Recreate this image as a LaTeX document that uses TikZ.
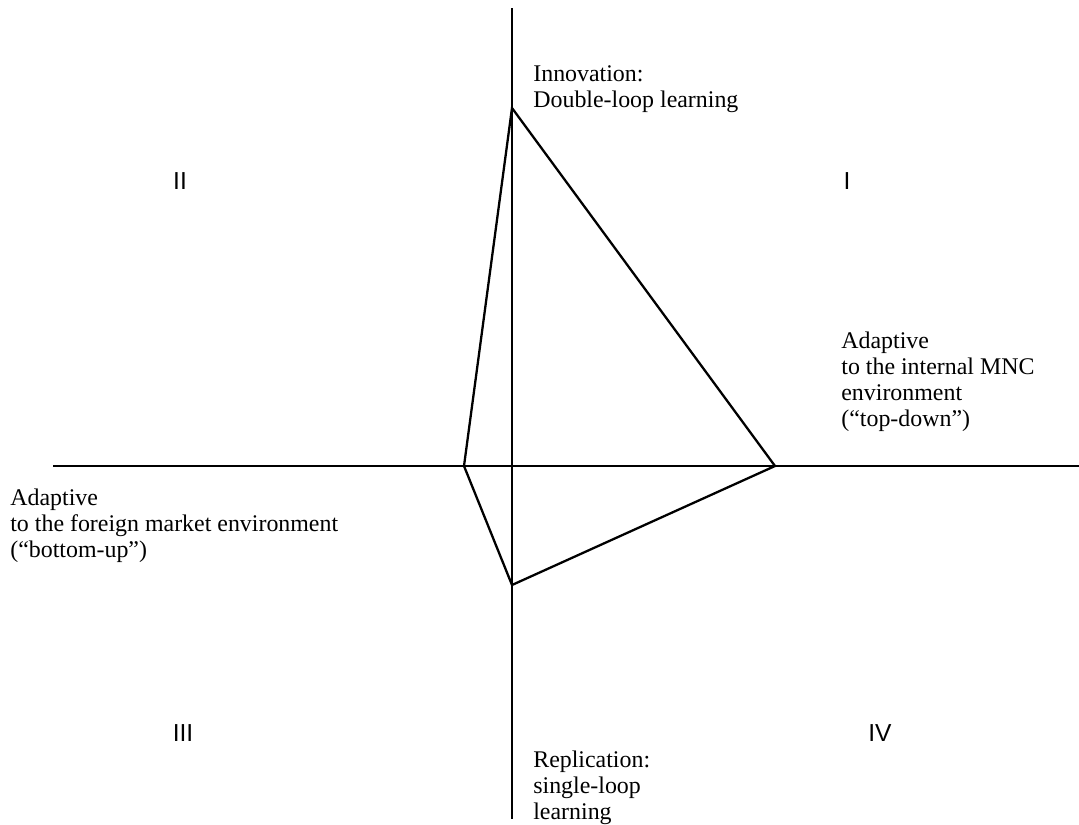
\documentclass[tikz,border=0pt]{standalone}
\usepackage{fontspec}
\setmainfont{Liberation Serif}
\newfontfamily\quadfont{Liberation Sans}
\usetikzlibrary{positioning}

\begin{document}
\begin{tikzpicture}[x=0.02cm,y=-0.02cm,
  axis/.style={line width=1.6pt},
  edge/.style={line width=1.3pt,line join=miter},
  label/.style={align=left,anchor=north west,inner sep=0pt,
    font=\fontsize{13.6}{14.8}\selectfont},
  quadrant/.style={inner sep=0pt,font=\quadfont\fontsize{14}{16}\selectfont}]
  \useasboundingbox (0,0) rectangle (1079,825);

  % axes
  \coordinate (west end) at (53,466);
  \coordinate (east end) at (1079,466);
  \coordinate (north end) at (512,8);
  \coordinate (south end) at (512,819);
  \draw[axis] (west end) -- (east end);
  \draw[axis] (north end) -- (south end);

  % learning polygon
  \coordinate (innovation) at (512,108);
  \coordinate (top down) at (775,466);
  \coordinate (replication) at (512,585);
  \coordinate (bottom up) at (464,466);
  \draw[edge] (innovation) -- (top down) -- (replication) -- (bottom up) -- cycle;

  % quadrants
  \node[quadrant] (q2) at (180,181) {II};
  \node[quadrant] (q1) at (847,181) {I};
  \node[quadrant] (q3) at (183,733) {III};
  \node[quadrant] (q4) at (880,733) {IV};

  % texts
  \node[label] (innov text) at (533,65) {Innovation:\\Double-loop learning};
  \node[label] (internal text) at (841,332)
    {Adaptive\\to the internal MNC\\environment\\(“top-down”)};
  \node[label] (foreign text) at (10,489)
    {Adaptive\\to the foreign market environment\\(“bottom-up”)};
  \node[label] (repl text) at (533,751) {Replication:\\single-loop\\learning};
\end{tikzpicture}
\end{document}
